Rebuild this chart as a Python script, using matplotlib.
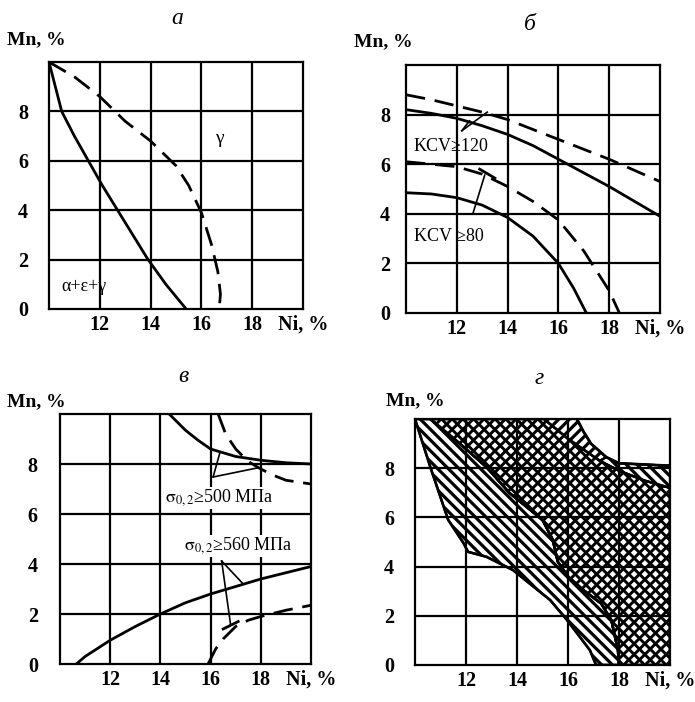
import matplotlib
matplotlib.use('Agg')
import matplotlib.pyplot as plt
from matplotlib.patches import Polygon
import numpy as np

plt.rcParams['font.family'] = ['Liberation Serif', 'DejaVu Serif']
plt.rcParams['mathtext.fontset'] = 'stix'

# ---------------- data ----------------
ni_grid = [12, 14, 16, 18]
mn_grid = [2, 4, 6, 8]
x_ticks = [12, 14, 16, 18, 20]
x_ticklabels = ['12', '14', '16', '18', 'Ni, %']
y_ticks = [0, 2, 4, 6, 8]
y_ticklabels = ['0', '2', '4', '6', '8']
panel_titles = ['а', 'б', 'в', 'г']
y_axis_label = 'Mn, %'

# panel a
a_solid_ni = [10, 10.25, 10.5, 11.0, 11.55, 12.1, 12.7, 13.3, 13.9, 14.6, 15.4]
a_solid_mn = [10, 9, 8, 7, 6, 5, 4, 3, 2, 1, 0]
a_dash_ni = [10, 11, 12, 13, 14, 15, 15.5, 16, 16.4, 16.65, 16.75, 16.7]
a_dash_mn = [10, 9.4, 8.6, 7.6, 6.8, 5.8, 5.0, 3.9, 2.6, 1.5, 0.6, 0]

# panel b
b_up_solid_ni = [10, 11, 12, 13, 14, 15, 16, 17, 18, 19, 20]
b_up_solid_mn = [8.2, 8.05, 7.85, 7.55, 7.2, 6.75, 6.2, 5.65, 5.1, 4.5, 3.9]
b_up_dash_ni = [10, 11, 12, 13, 14, 15, 16, 17, 18, 19, 20]
b_up_dash_mn = [8.8, 8.6, 8.35, 8.1, 7.8, 7.4, 7.0, 6.6, 6.2, 5.75, 5.3]
b_lo_solid_ni = [10, 11, 12, 13, 14, 15, 16, 16.6, 17.1]
b_lo_solid_mn = [4.85, 4.8, 4.65, 4.35, 3.85, 3.1, 2.0, 1.0, 0]
b_lo_dash_ni = [10, 11, 12, 13, 14, 15, 16, 17, 18, 18.4]
b_lo_dash_mn = [6.1, 6.0, 5.9, 5.6, 5.1, 4.5, 3.75, 2.5, 0.9, 0]

# panel c
c_up_solid_ni = [14.35, 15, 15.5, 16, 17, 18, 19, 20]
c_up_solid_mn = [10, 9.35, 8.95, 8.6, 8.3, 8.15, 8.05, 8.0]
c_up_dash_ni = [16.3, 16.6, 17.0, 17.5, 18, 18.5, 19, 20]
c_up_dash_mn = [10, 9.2, 8.6, 8.1, 7.8, 7.55, 7.35, 7.2]
c_lo_solid_ni = [10.65, 11, 12, 13, 14, 15, 16, 17, 18, 19, 20]
c_lo_solid_mn = [0, 0.3, 0.95, 1.5, 2.0, 2.45, 2.8, 3.1, 3.4, 3.65, 3.9]
c_lo_dash_ni = [15.9, 16.2, 16.5, 17, 17.5, 18, 19, 20]
c_lo_dash_mn = [0, 0.6, 1.0, 1.5, 1.75, 1.9, 2.15, 2.35]

# panel d region boundaries
d_L_ni = [10, 10.6, 11.3, 11.9, 12.08, 12.8, 13.84, 15.3, 15.96, 16.86, 17.1]
d_L_mn = [10, 8.05, 5.9, 4.96, 4.6, 4.4, 3.86, 2.64, 1.83, 0.6, 0]
d_C_ni = [10.6, 11.76, 12.8, 13.7, 15.0, 15.4, 15.6, 16.0, 16.6, 17.3, 17.7, 17.96, 18.0]
d_C_mn = [10, 9.0, 8.05, 7.0, 5.9, 5.1, 4.2, 3.6, 3.05, 2.5, 1.83, 0.6, 0]
d_U_ni = [15.06, 16.0, 17.25, 18.0, 19.0, 20.0]
d_U_mn = [10, 9.2, 8.3, 7.9, 7.5, 7.2]
d_W_ni = [16.35, 16.6, 16.9, 17.5, 18.0, 19.0, 20.0]
d_W_mn = [10, 9.5, 9.0, 8.45, 8.2, 8.15, 8.1]

# ---------------- figure ----------------
W, H = 695, 702
fig = plt.figure(figsize=(W / 100, H / 100), dpi=100)

def px_axes(x0, y0, x1, y1):
    return fig.add_axes([x0 / W, 1 - y1 / H, (x1 - x0) / W, (y1 - y0) / H])

axes = [px_axes(49, 62, 303, 309), px_axes(406, 65, 660, 313),
        px_axes(60, 414, 311, 664), px_axes(415, 419, 670, 665)]
ypads = [15, 11.5, 16, 15]
title_pos = [(177, 18), (530, 25), (183, 376), (539, 379)]
mn_pos = [(36, 40), (383, 42), (36, 402), (415, 401)]

LW = 1.6
for ax, yp, tp, mp, t in zip(axes, ypads, title_pos, mn_pos, panel_titles):
    ax.set_xlim(10, 20)
    ax.set_ylim(0, 10)
    for v in ni_grid:
        ax.axvline(v, color='black', lw=LW, zorder=3)
    for v in mn_grid:
        ax.axhline(v, color='black', lw=LW, zorder=3)
    for s in ax.spines.values():
        s.set_linewidth(LW)
        s.set_zorder(5)
    ax.set_xticks(x_ticks)
    ax.set_xticklabels(x_ticklabels, fontsize=14.5, fontweight='bold')
    ax.set_yticks(y_ticks)
    ax.set_yticklabels(y_ticklabels, fontsize=14.5, fontweight='bold')
    ax.tick_params(axis='x', length=0, pad=4)
    ax.tick_params(axis='y', length=0, pad=yp)
    fig.text(tp[0] / W, 1 - tp[1] / H, t, fontsize=17, style='italic',
             ha='center', va='center')
    fig.text(mp[0] / W, 1 - mp[1] / H, y_axis_label, fontsize=14,
             fontweight='bold', ha='center', va='center')

DASH = (7, 3.5)
SLW = 2.0

# panel a
ax = axes[0]
ax.plot(a_solid_ni, a_solid_mn, color='black', lw=SLW, zorder=4)
ax.plot(a_dash_ni, a_dash_mn, color='black', lw=SLW, dashes=DASH, zorder=4)
ax.text(16.7, 6.9, 'γ', fontsize=14, ha='center', va='center')
ax.text(10.5, 0.9, 'α+ε+γ', fontsize=13, ha='left', va='center')

# panel b
ax = axes[1]
ax.plot(b_up_solid_ni, b_up_solid_mn, color='black', lw=SLW, zorder=4)
ax.plot(b_up_dash_ni, b_up_dash_mn, color='black', lw=SLW, dashes=DASH, zorder=4)
ax.plot(b_lo_solid_ni, b_lo_solid_mn, color='black', lw=SLW, zorder=4)
ax.plot(b_lo_dash_ni, b_lo_dash_mn, color='black', lw=SLW, dashes=DASH, zorder=4)
ax.text(10.3, 6.7, 'KCV≥120', fontsize=13, ha='left', va='center')
ax.text(10.3, 3.07, 'KCV ≥80', fontsize=13, ha='left', va='center')
ax.plot([12.2, 12.5], [7.35, 7.75], color='black', lw=1.2, zorder=4)
ax.plot([12.2, 13.2], [7.35, 8.1], color='black', lw=1.2, zorder=4)
ax.plot([12.64, 13.1], [4.03, 5.56], color='black', lw=1.2, zorder=4)
ax.plot([12.9, 13.5], [5.8, 5.44], color='black', lw=2.0, zorder=4)

# panel c
ax = axes[2]
ax.plot(c_up_solid_ni, c_up_solid_mn, color='black', lw=SLW, zorder=4)
ax.plot(c_up_dash_ni, c_up_dash_mn, color='black', lw=SLW, dashes=DASH, zorder=4)
ax.plot(c_lo_solid_ni, c_lo_solid_mn, color='black', lw=SLW, zorder=4)
ax.plot(c_lo_dash_ni, c_lo_dash_mn, color='black', lw=SLW, dashes=DASH, zorder=4)
ax.text(14.2, 6.64, r'$\mathrm{\sigma}_{0,2}$≥500 МПа', fontsize=13, ha='left', va='center',
        zorder=6, bbox=dict(facecolor='white', edgecolor='none', pad=0.5))
ax.text(14.95, 4.72, r'$\mathrm{\sigma}_{0,2}$≥560 МПа', fontsize=13, ha='left', va='center',
        zorder=6, bbox=dict(facecolor='white', edgecolor='none', pad=0.5))
ax.plot([16.1, 16.37], [7.48, 8.45], color='black', lw=1.2, zorder=4)
ax.plot([16.1, 17.85], [7.48, 7.84], color='black', lw=1.2, zorder=4)
ax.plot([16.44, 17.3], [4.12, 3.2], color='black', lw=1.2, zorder=4)
ax.plot([16.44, 16.8], [4.12, 1.55], color='black', lw=1.2, zorder=4)
ax.plot([16.5, 17.1], [1.4, 1.7], color='black', lw=2.0, zorder=4)

# panel d
ax = axes[3]
band = list(zip(d_L_ni, d_L_mn)) + list(zip(d_C_ni, d_C_mn))[::-1]
cross = (list(zip(d_C_ni, d_C_mn)) + [(20, 0), (20, d_U_mn[-1])]
         + list(zip(d_U_ni, d_U_mn))[::-1])
split_w = 3
split_u = 2
top_strip = (list(zip(d_W_ni[:split_w + 1], d_W_mn[:split_w + 1]))
             + list(zip(d_U_ni[:split_u + 1], d_U_mn[:split_u + 1]))[::-1])
right_strip = (list(zip(d_W_ni[split_w:], d_W_mn[split_w:]))
               + list(zip(d_U_ni[split_u:], d_U_mn[split_u:]))[::-1])

# hand-made hatching (style only): 45-degree strokes clipped to each region
asp = (246 / 10) / (255 / 10)          # px per Mn unit / px per Ni unit
step = 0.42                            # stroke spacing along Ni
xs = np.array([9.0, 21.0])

def hatch(poly, directions, lw, ew):
    patch = Polygon(poly, closed=True, facecolor='white', edgecolor='black',
                    lw=ew, zorder=2)
    ax.add_patch(patch)
    for d in directions:
        for c in np.arange(-15, 45, step):
            if d == 'back':       # '\' strokes
                ys = -(xs - c) / asp + 10
            else:                  # '/' strokes
                ys = (xs - c) / asp
            ln, = ax.plot(xs, ys, color='black', lw=lw, zorder=2.5,
                          solid_capstyle='butt')
            ln.set_clip_path(patch)
    edge = Polygon(poly, closed=True, facecolor='none', edgecolor='black',
                   lw=ew, zorder=2.6)
    ax.add_patch(edge)

hatch(band, ['back'], 2.3, 1.8)
hatch(cross, ['back', 'fwd'], 2.1, 1.8)
hatch(top_strip, ['fwd'], 2.3, 1.5)
hatch(right_strip, ['back'], 2.3, 1.5)
ax.plot(d_W_ni, d_W_mn, color='black', lw=SLW, zorder=4)

fig.savefig('out.png', dpi=100)
